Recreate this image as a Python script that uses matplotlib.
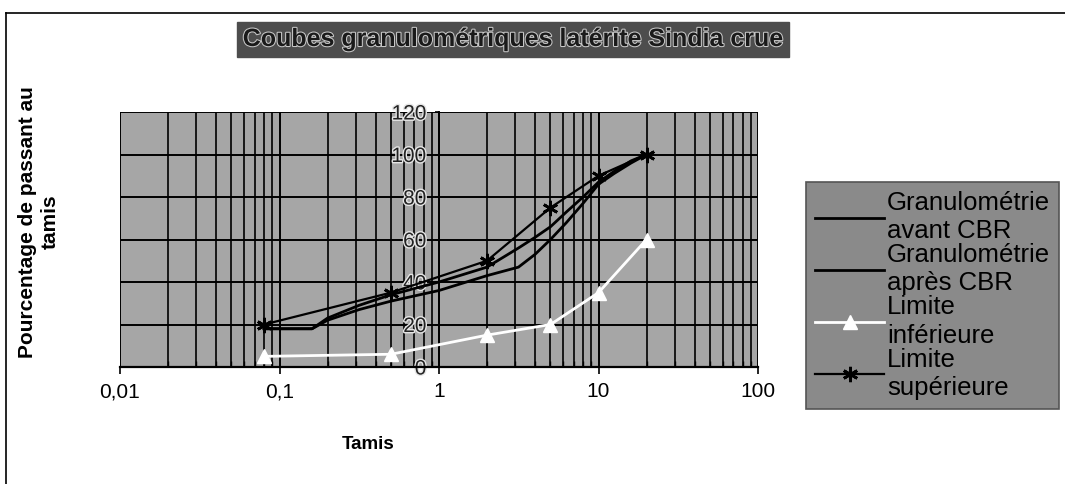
import numpy as np
import matplotlib
matplotlib.use('Agg')
import matplotlib.pyplot as plt
import matplotlib.ticker as mticker
import matplotlib.patheffects as pe
from matplotlib.lines import Line2D

plt.rcParams['font.family'] = ['Liberation Sans', 'DejaVu Sans']

# --- data ---
tamis = [0.08, 0.16, 0.2, 0.315, 0.5, 1, 2, 3.15, 4, 5, 6.3, 8, 10, 12.5, 16, 20]
avant_cbr = [18, 18, 22, 27, 31, 36, 43, 47, 53, 60, 68, 77, 86, 91, 96, 100]
apres_cbr = [18, 18, 23, 29, 34, 40, 47, 56, 61, 66, 73, 80, 87, 92, 97, 100]

tamis_lim = [0.08, 0.5, 2, 5, 10, 20]
lim_inf = [5, 6, 15, 20, 35, 60]
lim_sup = [20, 35, 50, 75, 90, 100]

x_ticks = [0.01, 0.1, 1, 10, 100]
x_labels = ['0,01', '0,1', '1', '10', '100']
y_ticks = [0, 20, 40, 60, 80, 100, 120]

labels = ['Granulométrie\navant CBR', 'Granulométrie\naprès CBR',
          'Limite\ninférieure', 'Limite\nsupérieure']

# --- figure ---
fig = plt.figure(figsize=(10.65, 4.84), dpi=100)
ax = fig.add_axes([120/1065, 1-367/484, 638/1065, 255/484])
ax.set_facecolor('#a6a6a6')

star = (6, 2, 0)
l1, = ax.plot(tamis, avant_cbr, color='black', lw=2, zorder=3)
l2, = ax.plot(tamis, apres_cbr, color='black', lw=2, zorder=3)
l3, = ax.plot(tamis_lim, lim_inf, color='white', lw=2, marker='^', ms=10,
              mfc='white', mec='white', zorder=4)
l4, = ax.plot(tamis_lim, lim_sup, color='black', lw=1.6, marker=star, ms=11,
              mew=2, mec='black', zorder=4)

ax.set_xscale('log')
ax.set_xlim(0.01, 100)
ax.set_ylim(0, 120)
ax.set_xticks(x_ticks)
ax.set_xticklabels(x_labels)
ax.xaxis.set_minor_locator(mticker.LogLocator(base=10, subs=np.arange(2, 10)))
ax.xaxis.set_minor_formatter(mticker.NullFormatter())
ax.set_yticks(y_ticks)

# grid (excel style: every log line + every 20 %)
ax.grid(True, which='major', axis='both', color='black', lw=1.4, zorder=1)
ax.grid(True, which='minor', axis='x', color='black', lw=1.2, zorder=1)
ax.set_axisbelow(True)

# y axis crosses at x = 1
ax.spines['left'].set_position(('data', 1))
ax.spines['left'].set_linewidth(1.4)
for s in ['top', 'right']:
    ax.spines[s].set_visible(False)
ax.spines['bottom'].set_linewidth(1.6)

ax.tick_params(axis='x', which='major', direction='out', length=5, width=1.2,
               labelsize=15, pad=6)
ax.tick_params(axis='x', which='minor', direction='in', length=4, width=1)
ax.tick_params(axis='y', direction='out', length=3, width=1.2, labelsize=15,
               pad=6, labelcolor='#222222')
for t in ax.get_yticklabels():
    t.set_path_effects([pe.withStroke(linewidth=2, foreground='#e6e6e6')])

ax.set_xlabel('Tamis', fontsize=13.5, fontweight='bold')
ax.xaxis.set_label_coords((368-120)/638, -0.27)
ax.set_ylabel('Pourcentage de passant au\ntamis', fontsize=15,
              fontweight='bold', multialignment='center', linespacing=1.25)
ax.yaxis.set_label_coords(-0.095, 0.57)

# title in a dark box
fig.text(513/1065, 1-39/484, 'Coubes granulométriques latérite Sindia crue',
         ha='center', va='center', fontsize=18, fontweight='bold', color='#1a1a1a',
         path_effects=[pe.withStroke(linewidth=1.5, foreground='#c8c8c8')],
         bbox=dict(boxstyle='square,pad=0.22', facecolor='#4d4d4d',
                   edgecolor='#4d4d4d'))

# legend box on the right
leg = ax.legend([l1, l2, l3, l4], labels, loc='upper left',
                bbox_to_anchor=(806/1065, 1-182/484), bbox_transform=fig.transFigure,
                fontsize=18.5, frameon=True, fancybox=False, facecolor='#8a8a8a',
                edgecolor='#555555', framealpha=1, handlelength=2.7,
                handletextpad=0.1, borderpad=0.35, labelspacing=0.0,
                borderaxespad=0)
leg.get_frame().set_linewidth(1.2)
for t in leg.get_texts():
    t.set_linespacing(1.22)

# outer frame of the chart sheet
fig.add_artist(Line2D([6/1065, 6/1065], [0, 1-13/484], color='black', lw=1.2,
                      transform=fig.transFigure))
fig.add_artist(Line2D([6/1065, 1], [1-13/484, 1-13/484], color='black', lw=1.2,
                      transform=fig.transFigure))

fig.savefig('out.png', dpi=100, facecolor='white')
